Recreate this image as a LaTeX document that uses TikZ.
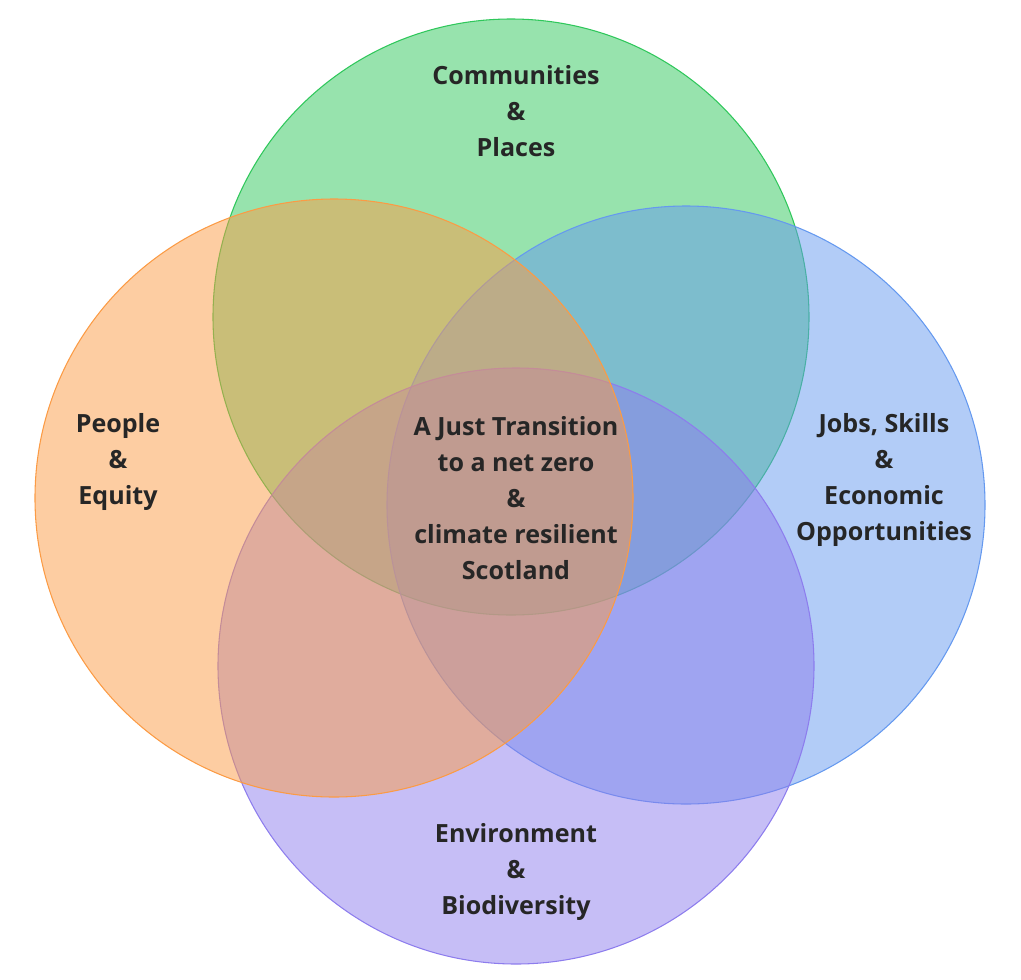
\documentclass[tikz,border=0pt]{standalone}
\usepackage{fontspec}
\setmainfont{Open Sans}
\definecolor{cg}{RGB}{47,199,91}
\definecolor{co}{RGB}{251,155,69}
\definecolor{cb}{RGB}{101,153,239}
\definecolor{cp}{RGB}{141,125,237}
\tikzset{ring/.style={fill=#1,fill opacity=0.5,draw=#1,line width=0.8pt},
lab/.style={align=center,font=\fontsize{18.8}{27}\selectfont\bfseries,text=black!85}}
\begin{document}
\begin{tikzpicture}[x=0.75pt,y=-0.75pt]
\useasboundingbox (0,0) rectangle (1021,979);
\path[ring=cg] (511,317) circle (298);
\path[ring=cb] (686,505) circle (299);
\path[ring=cp] (516,666) circle (298);
\path[ring=co] (334,498) circle (299);
\node[lab] (c) at (516,111) {Communities\\\&\\Places};
\node[lab] (p) at (118,462) {People\\\&\\Equity};
\node[lab] (j) at (884,480) {Jobs, Skills\\\&\\Economic\\Opportunities};
\node[lab] (e) at (516,872) {Environment\\\&\\Biodiversity};
\node[lab] (m) at (516,498) {A Just Transition\\to a net zero\\\&\\climate resilient\\Scotland};
\end{tikzpicture}
\end{document}
